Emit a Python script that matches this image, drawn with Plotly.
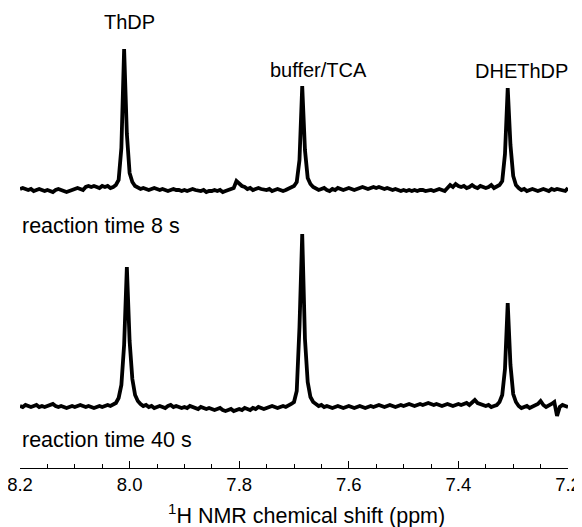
import plotly.graph_objects as go

# chemical-shift sampling grid (ppm), 8.200 -> 7.200 in 0.005 ppm steps
shift_ppm = [round(8.2 - 0.005 * i, 3) for i in range(201)]

# intensities (arbitrary units, baseline = 0)
spectrum_8s = [
    1, 2, 1, 0, 1, -1, 0, 1, 0, -1,
    0, -1, -2, 0, 1, 0, -1, -2, -1, 0,
    1, 2, 1, 0, 3, 4, 3, 4, 3, 2,
    4, 3, 4, 2, 3, 5, 10, 42,
    141, 56, 17, 8, 4,
    2, 1, 2, 1, 0, 1, 2,
    1, 0, 1, 0, -1, 0, 1, 0, 0, -1,
    0, -1, 0, 1, 0, -1, -1, 0, -2, -1,
    -1, 0, -1, 0, -2, -1, 0, 1, 2, 9,
    6, 4, 3, 1, 2, 0, 1, 2, 1, 0,
    0, 1, -1, 0, 1, 0, -1, 0, 1, 2,
    4, 8, 30, 104, 40, 12, 6, 3, 1, 0,
    1, 2, 0, -1, 1, 0, 2, 1, 0, 1,
    2, 1, 0, 1, 2, 3, 2, 1, 2, 3,
    2, 3, 2, 1, 2, 1, 0, 1, 0, -1,
    0, -1, 0, -1, 0, -1, 0, 0, -1, 0,
    0, -1, 0, 1, 0, -1, 2, 5, 3, 6,
    4, 3, 4, 2, 3, 5, 3, 2, 4, 3,
    2, 3, 5, 2, 3, 5,
    9, 36, 102, 45, 14, 5,
    2, 0, 1, -1, 0, 1, 0, -1,
    0, 1, 0, -1, 1, 0, 1, 0, 0, -1, 2,
]

spectrum_40s = [
    1, 0, 2, 1, 0, 1, 2, 0, 1, 0,
    1, 2, 3, 1, 0, 1, 0, -1, 0, 1,
    0, 1, 2, 1, 0, 1, 0, -1, 0, 1,
    0, 1, 2, 1, 3, 4, 9,
    22, 62, 140, 66, 28, 12, 6,
    3, 1, 2, 0, 1, -1,
    0, 1, 0, -1, 1, 2, 0, 1, 0, -1,
    0, -1, 1, 0, -1, -2, 0, -1, -2, -1,
    -2, -3, -2, -1, -3, -4, -3, -2, -4, -3,
    -2, -3, -1, -2, -3, -1, -2, 0, -1, -2,
    -1, 0, 1, 0, -1, 0, 1, 0, 1, 3,
    5, 16, 80, 173, 68, 25, 10, 5, 3, 1,
    2, 0, 1, 0, -1, 0, 1, 0, -1, 0,
    1, 0, -1, 0, 1, 0, -1, 0, 1, 0,
    1, 2, 1, 0, 1, 2, 1, 0, 1, 2,
    1, 2, 3, 2, 1, 2, 3, 2, 3, 4,
    3, 2, 3, 2, 1, 2, 3, 2, 1, 2,
    3, 2, 3, 4, 2, 4, 7, 4, 3, 2,
    1, 2, 0, 1, 2, 5,
    12, 38, 104, 42, 13, 5,
    1, -1, 0, 1, -1, 0, 2, 3,
    6, 2, 0, 1, 3, 5, -9, 0, 2, 1, 0,
]

peak_labels = ["ThDP", "buffer/TCA", "DHEThDP"]
peak_label_ppm = [8.0, 7.655, 7.285]
time_labels = ["reaction time 8 s", "reaction time 40 s"]
tick_values = [8.2, 8.0, 7.8, 7.6, 7.4, 7.2]
tick_text = ["8.2", "8.0", "7.8", "7.6", "7.4", "7.2"]
x_title = "<sup>1</sup>H NMR chemical shift (ppm)"

# vertical stacking (layout)
OFFSET_8S = 278
OFFSET_40S = 61

FONT = "Liberation Sans, Arial, sans-serif"

fig = go.Figure()
fig.add_trace(go.Scatter(
    x=shift_ppm, y=[v + OFFSET_8S for v in spectrum_8s],
    mode="lines", line=dict(color="black", width=3.8, shape="linear"),
    showlegend=False, hoverinfo="skip"))
fig.add_trace(go.Scatter(
    x=shift_ppm, y=[v + OFFSET_40S for v in spectrum_40s],
    mode="lines", line=dict(color="black", width=3.8, shape="linear"),
    showlegend=False, hoverinfo="skip"))

label_y = [446, 398, 397]
for txt, xp, yp in zip(peak_labels, peak_label_ppm, label_y):
    fig.add_annotation(x=xp, y=yp, text=txt, showarrow=False,
                       xanchor="center", yanchor="middle",
                       font=dict(family=FONT, size=20, color="black"))

for txt, yp in zip(time_labels, [242, 28]):
    fig.add_annotation(x=8.2, y=yp, text=txt, showarrow=False,
                       xanchor="left", yanchor="middle",
                       font=dict(family=FONT, size=21.5, color="black"))

# axis title
fig.add_annotation(x=0.522, y=-0.099, xref="paper", yref="paper",
                   text=x_title, showarrow=False,
                   xanchor="center", yanchor="middle",
                   font=dict(family=FONT, size=21.5, color="black"))

# the page body adds an 8 px offset; the figure is sized to fill the rest
fig.update_layout(
    width=574, height=519,
    margin=dict(l=12, r=14, t=0, b=59, autoexpand=False),
    plot_bgcolor="white", paper_bgcolor="white",
    font=dict(family=FONT, size=18, color="black"),
    xaxis=dict(
        range=[8.2, 7.2], showgrid=False, zeroline=False, automargin=False,
        showline=True, linecolor="black", linewidth=1.3,
        ticks="inside", ticklen=7, tickwidth=1.3, tickcolor="black",
        tickvals=tick_values, ticktext=tick_text,
        ticklabeloverflow="allow",
        tickfont=dict(family=FONT, size=18.5, color="black"),
        minor=dict(ticks="inside", dtick=0.05, tick0=8.2, ticklen=4,
                   tickwidth=1.2, tickcolor="black", showgrid=False),
    ),
    yaxis=dict(range=[0, 460], visible=False, showgrid=False, zeroline=False),
)

fig.write_html("out.html")
